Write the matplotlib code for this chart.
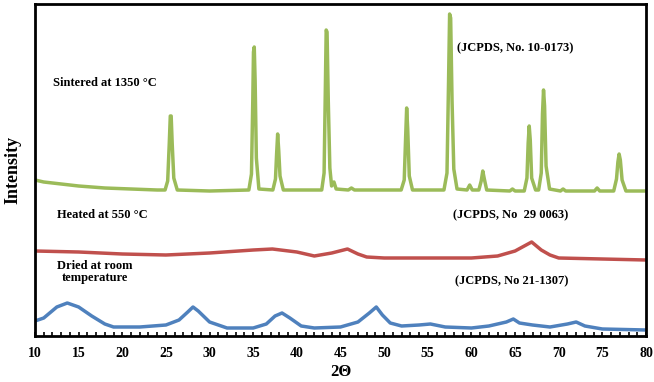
import matplotlib
matplotlib.use("Agg")
import matplotlib.pyplot as plt
from matplotlib.ticker import MultipleLocator

# ---- data (intensity in arbitrary units) ----
sint_x = [10, 11, 13, 15, 18, 21, 24, 24.9, 25.2, 25.38, 25.5, 25.6, 25.72, 25.9, 26.3,
          30, 34.5, 34.8, 34.95, 35.03, 35.12, 35.22, 35.36, 35.65,
          37.25, 37.55, 37.68, 37.8, 37.92, 38.07, 38.45,
          42.85, 43.12, 43.26, 43.36, 43.46, 43.6, 43.78, 43.98, 44.25, 44.5,
          45.9, 46.25, 46.6,
          51.95, 52.3, 52.46, 52.58, 52.7, 52.88, 53.25,
          56.85, 57.2, 57.38, 57.5, 57.62, 57.78, 57.98, 58.35,
          59.5, 59.8, 60.1,
          60.85, 61.12, 61.3, 61.48, 61.75,
          64.4, 64.7, 65.0,
          66.05, 66.36, 66.5, 66.62, 66.74, 66.9, 67.35,
          67.7, 68.0, 68.14, 68.26, 68.38, 68.55, 68.95,
          70.2, 70.5, 70.8,
          74.1, 74.4, 74.7,
          76.3, 76.62, 76.78, 76.92, 77.06, 77.26, 77.7, 80]
sint_y = [156, 154, 152, 150, 148, 147, 146, 146, 155, 192, 220, 220, 192, 158, 146,
          145, 146, 162, 235, 284, 289, 255, 178, 147,
          146, 157, 182, 202, 186, 160, 146,
          146, 163, 245, 306, 304, 235, 168, 150, 154, 147,
          146, 148, 146,
          146, 156, 198, 228, 207, 160, 146,
          146, 163, 255, 322, 318, 235, 167, 147,
          146, 151, 146,
          146, 155, 165, 157, 146,
          145, 147, 145,
          145, 158, 193, 210, 196, 158, 146,
          146, 163, 222, 246, 230, 170, 147,
          145, 147, 145,
          145, 148, 145,
          145, 157, 174, 182, 176, 156, 145, 145]

heat_x = [10, 15, 20, 25, 30, 35, 37.2, 40, 42, 44, 45.8, 47, 48, 50, 55, 60,
          63, 65, 66.9, 68, 69, 70, 75, 80]
heat_y = [85, 84, 82, 81, 83, 86, 87, 84, 80, 83, 87, 82, 79, 78, 78, 78,
          80, 85, 94, 86, 81, 78, 77, 76]

dry_x = [10, 11, 12.5, 13.7, 15, 16.5, 18, 19, 22, 25, 26.5, 27.5, 28.1, 28.7, 30,
         32, 35, 36.5, 37.5, 38.3, 39.2, 40.5, 42, 45, 47, 48.3, 49.1, 49.8, 50.7,
         52, 54, 55.3, 57, 60, 62, 64, 64.8, 65.5, 67, 69, 71, 72, 73, 75, 80]
dry_y = [15, 18, 29, 33, 29, 20, 12, 9, 9, 11, 16, 24, 29, 25, 14,
         8, 8, 12, 20, 23, 18, 10, 8, 9, 14, 23, 29, 21, 13,
         10, 11, 12, 9, 8, 10, 14, 17, 13, 11, 9, 12, 14, 10, 7, 6]

x_ticks = [10, 15, 20, 25, 30, 35, 40, 45, 50, 55, 60, 65, 70, 75, 80]

GREEN = "#9BBB59"
RED = "#C0504D"
BLUE = "#4F81BD"

W, H = 654, 382
fig = plt.figure(figsize=(W / 100, H / 100), dpi=100)
ax = fig.add_axes([35 / W, (H - 336) / H, (646 - 35) / W, (336 - 4) / H])

for xs, ys, c in [(sint_x, sint_y, GREEN), (heat_x, heat_y, RED), (dry_x, dry_y, BLUE)]:
    ax.plot(xs, ys, color=c, lw=2.5, solid_joinstyle="round", solid_capstyle="round")

ax.set_xlim(10, 80)
ax.set_ylim(0, 332)
ax.set_xticks(x_ticks)
ax.xaxis.set_minor_locator(MultipleLocator(1))
ax.set_yticks([])
ax.tick_params(axis="x", which="both", direction="in", width=1.2, length=3,
               top=False, pad=8)
for lab in ax.get_xticklabels():
    lab.set_fontfamily("Liberation Serif")
    lab.set_fontweight("bold")
    lab.set_fontsize(10)
for s in ax.spines.values():
    s.set_linewidth(2)
    s.set_color("black")

serif = dict(family="Liberation Serif", weight="bold")
ax.set_xlabel("2Θ", fontsize=12, labelpad=3, **serif)
ax.set_ylabel("Intensity", fontsize=13, labelpad=10, **serif)


def ftext(px, py, s, size=9, **kw):
    fig.text(px / W, 1 - py / H, s, fontsize=size, va="center", **serif, **kw)


ftext(53, 83, "Sintered at 1350 °C")
ftext(457, 48, "(JCPDS, No. 10-0173)")
ftext(57, 215, "Heated at 550 °C")
ftext(453, 215, "(JCPDS, No  29 0063)")
ftext(95, 272, "Dried at room\ntemperature", ha="center", multialignment="center",
      linespacing=1.1)
ftext(455, 281, "(JCPDS, No 21-1307)")

fig.savefig("out.png", dpi=100)
